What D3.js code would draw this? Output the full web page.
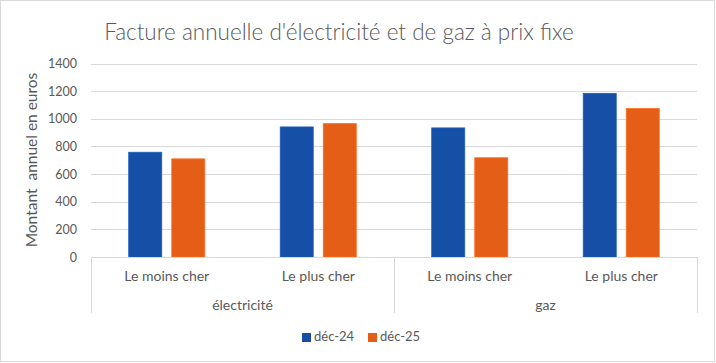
<!DOCTYPE html>
<html><head><meta charset="utf-8">
<script src="https://cdn.jsdelivr.net/npm/d3@7"></script>
<style>
html,body{margin:0;padding:0;background:#fff;}
svg{display:block;font-family:Lato, "Open Sans", sans-serif;}
</style></head>
<body>
<script>
const title = "Facture annuelle d'électricité et de gaz à prix fixe";
const yAxisTitle = "Montant  annuel en euros";
const groups = ["électricité", "gaz"];
const subCategories = ["Le moins cher", "Le plus cher"];
const seriesNames = ["déc-24", "déc-25"];
const seriesColors = ["#1550A6", "#E55E18"];
const dec24 = [758, 941, 934, 1184];
const dec25 = [710, 965, 718, 1074];
const yTicks = [0, 200, 400, 600, 800, 1000, 1200, 1400];

const W = 716, H = 363;
const m = {left: 91, right: 19, top: 63.5, bottom: 106};
const svg = d3.select("body").append("svg").attr("width", W).attr("height", H);

// chart border
svg.append("rect").attr("x", 0.5).attr("y", 0.5).attr("width", W - 2).attr("height", H - 2)
  .attr("fill", "#fff").attr("stroke", "#d9d9d9");

const plotW = W - m.left - m.right, plotBottom = 257;
const cats = [];
groups.forEach(g => subCategories.forEach(s => cats.push(g + "|" + s)));

const x0 = d3.scaleBand().domain(cats).range([m.left, m.left + plotW]).paddingInner(0.498).paddingOuter(0.249);
const x1 = d3.scaleBand().domain(seriesNames).range([0, x0.bandwidth()]).paddingInner(0.233).paddingOuter(0);
const y = d3.scaleLinear().domain([0, 1400]).range([plotBottom, m.top]);

// gridlines
svg.append("g").selectAll("line").data(yTicks.filter(d => d > 0)).join("line")
  .attr("x1", m.left).attr("x2", m.left + plotW)
  .attr("y1", d => Math.round(y(d)) + 0.5).attr("y2", d => Math.round(y(d)) + 0.5)
  .attr("stroke", "#d9d9d9").attr("stroke-width", 1);

// y tick labels
const yAxis = d3.axisLeft(y).tickValues(yTicks).tickFormat(d3.format("d")).tickSize(0).tickPadding(0);
const ya = svg.append("g").attr("transform", `translate(${77},0)`).call(yAxis);
ya.select(".domain").remove();
ya.selectAll("text").attr("fill", "#595959").style("font-size", "12.5px").style("font-family", "Lato, sans-serif");

// bars
const series = [dec24, dec25];
const gBars = svg.append("g");
cats.forEach((c, i) => {
  seriesNames.forEach((s, j) => {
    const v = series[j][i];
    gBars.append("rect")
      .attr("x", x0(c) + x1(s))
      .attr("y", y(v))
      .attr("width", x1.bandwidth())
      .attr("height", y(0) - y(v))
      .attr("fill", seriesColors[j])
      .attr("stroke", d3.color(seriesColors[j]).brighter(0.4))
      .attr("stroke-width", 0.8);
  });
});

// category axis
const axG = svg.append("g").attr("stroke", "#d9d9d9").attr("stroke-width", 1);
axG.append("line").attr("x1", m.left).attr("x2", m.left + plotW).attr("y1", plotBottom + 0.5).attr("y2", plotBottom + 0.5);
const seps = [m.left, m.left + plotW / 2, m.left + plotW];
seps.forEach(sx => {
  axG.append("line").attr("x1", Math.round(sx) + 0.5).attr("x2", Math.round(sx) + 0.5)
    .attr("y1", plotBottom).attr("y2", 313);
});

svg.append("g").selectAll("text").data(cats).join("text")
  .attr("x", d => x0(d) + x0.bandwidth() / 2)
  .attr("y", 277)
  .attr("text-anchor", "middle").attr("dominant-baseline", "middle")
  .attr("fill", "#595959").style("font-size", "14px")
  .text(d => d.split("|")[1]);

svg.append("g").selectAll("text").data(groups).join("text")
  .attr("x", (d, i) => m.left + plotW / 4 + i * plotW / 2)
  .attr("y", 306)
  .attr("text-anchor", "middle").attr("dominant-baseline", "middle")
  .attr("fill", "#595959").style("font-size", "14px")
  .text(d => d);

// title
svg.append("text").attr("x", 339).attr("y", 34)
  .attr("text-anchor", "middle").attr("dominant-baseline", "middle")
  .attr("fill", "#595959").style("font-size", "22.5px").style("font-weight", 300)
  .text(title);

// y axis title
svg.append("text").attr("transform", `translate(33,160) rotate(-90)`)
  .attr("text-anchor", "middle").attr("dominant-baseline", "middle")
  .attr("fill", "#595959").style("font-size", "15.5px")
  .style("white-space", "pre").attr("xml:space", "preserve")
  .text(yAxisTitle);

// legend
const legX = [302, 368];
const lg = svg.append("g");
seriesNames.forEach((s, j) => {
  lg.append("rect").attr("x", legX[j]).attr("y", 333).attr("width", 9).attr("height", 9).attr("fill", seriesColors[j]);
  lg.append("text").attr("x", legX[j] + 12).attr("y", 338)
    .attr("dominant-baseline", "middle").attr("fill", "#595959").style("font-size", "13px")
    .text(s);
});
</script>
</body></html>
